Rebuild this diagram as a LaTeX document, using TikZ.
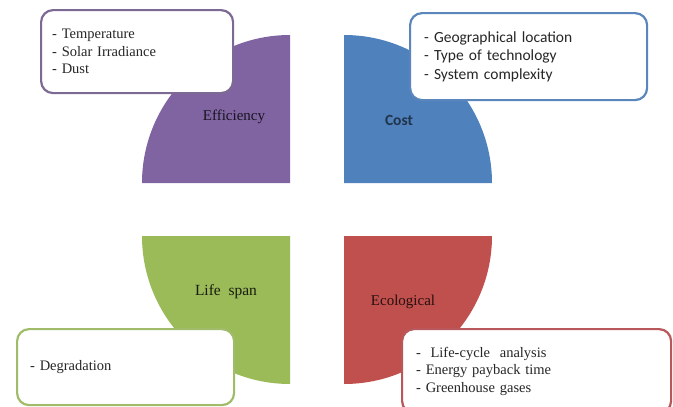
\documentclass[tikz,border=0pt]{standalone}
\usepackage{fontspec}
\setmainfont{Liberation Serif}
\newfontfamily\calibri{Carlito}
\definecolor{effc}{HTML}{8064A2}
\definecolor{costc}{HTML}{4F81BD}
\definecolor{lifec}{HTML}{9BBB59}
\definecolor{ecoc}{HTML}{C0504D}
\definecolor{effb}{HTML}{7D6A94}
\definecolor{costb}{HTML}{5A86BC}
\definecolor{lifeb}{HTML}{A0BC6A}
\definecolor{ecob}{HTML}{B8585A}
\tikzset{
  infobox/.style={draw=#1, line width=2.2pt, fill=white, rounded corners=12pt,
    anchor=north west, align=left, inner ysep=0pt, text=black!85},
  serifbox/.style={font=\fontsize{14.5}{17.5}\selectfont},
  sansbox/.style={font=\calibri\fontsize{15.5}{18.5}\selectfont},
  qlabel/.style={font=\fontsize{15}{17}\selectfont, text=#1}
}
\begin{document}
\begin{tikzpicture}[x=1pt,y=-1pt]
\useasboundingbox (0,0) rectangle (673,407);
% quadrants
\fill[effc] (290,183) -- (142,183) arc[start angle=180, end angle=270, radius=148] -- cycle;
\fill[costc] (344,183) -- (344,35) arc[start angle=270, end angle=360, radius=148] -- cycle;
\fill[lifec] (290,236) -- (142,236) arc[start angle=180, end angle=90, radius=148] -- cycle;
\fill[ecoc] (344,236) -- (492,236) arc[start angle=0, end angle=90, radius=148] -- cycle;
% quadrant labels
\node[qlabel=black!80!effc] (eff) at (234,117) {Efficiency};
\node[qlabel=costc!40!black, font=\calibri\fontsize{15.5}{17}\selectfont\bfseries] (cost) at (399,120) {Cost};
\node[qlabel=black!85!lifec, font=\fontsize{15.5}{17}\selectfont] (life) at (226,292) {Life\ \ span};
\node[qlabel=black!80!ecoc] (eco) at (403,302) {Ecological};
% info boxes
\node[infobox=effb, serifbox, minimum width=192pt, minimum height=83pt, text width=170pt, inner xsep=11pt] (effbox) at (40,9)
  {- Temperature\\- Solar Irradiance\\- Dust};
\node[infobox=costb, sansbox, minimum width=237pt, minimum height=87pt, text width=209pt, inner xsep=14pt] (costbox) at (409,12)
  {- Geographical location\\- Type of technology\\- System complexity};
\node[infobox=lifeb, serifbox, minimum width=217pt, minimum height=76pt, text width=191pt, inner xsep=13pt] (lifebox) at (16,328)
  {- Degradation};
\node[infobox=ecob, serifbox, minimum width=269pt, minimum height=84pt, text width=241pt, inner xsep=14pt, yshift=-3pt] (ecobox) at (401,325)
  {-\ \ Life-cycle\ \ analysis\\- Energy payback time\\- Greenhouse gases};
\end{tikzpicture}
\end{document}
